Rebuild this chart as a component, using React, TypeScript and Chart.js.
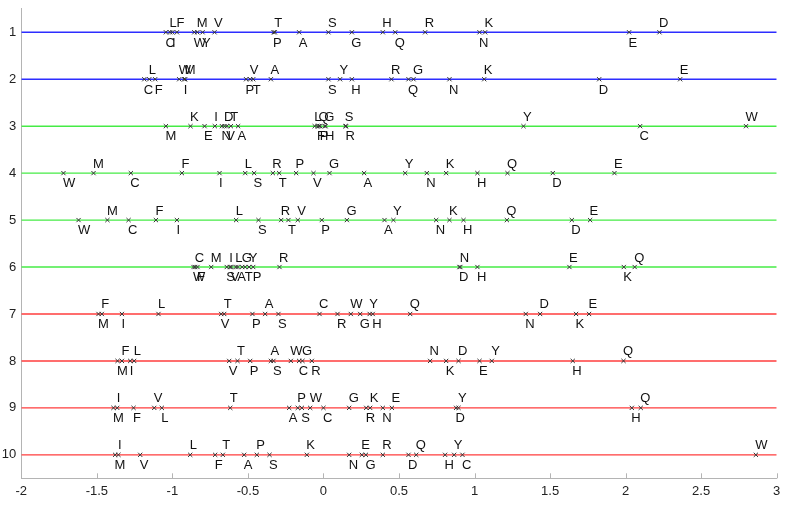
import React, { useEffect, useRef } from "react";
import { Chart, registerables } from "chart.js";

Chart.register(...registerables);

const rowNumbers = [1, 2, 3, 4, 5, 6, 7, 8, 9, 10];
const xTickValues = [-2, -1.5, -1, -0.5, 0, 0.5, 1, 1.5, 2, 2.5, 3];

const row1Letters = ["C","L","I","F","W","M","Y","V","P","T","A","S","G","H","Q","R","N","K","E","D"];
const row1Values = [-1.043,-1.015,-1.0,-0.97,-0.855,-0.835,-0.8,-0.721,-0.33,-0.322,-0.161,0.033,0.188,0.393,0.475,0.673,1.033,1.07,2.023,2.224];

const row2Letters = ["C","L","F","W","I","M","P","V","T","A","S","Y","H","R","Q","G","N","K","D","E"];
const row2Values = [-1.186,-1.153,-1.114,-0.955,-0.922,-0.915,-0.512,-0.485,-0.465,-0.348,0.033,0.11,0.188,0.45,0.563,0.596,0.834,1.064,1.825,2.361];

const row3Letters = ["M","K","E","I","N","D","V","T","A","L","F","Q","P","G","H","S","R","Y","C","W"];
const row3Values = [-1.043,-0.88,-0.787,-0.719,-0.672,-0.655,-0.64,-0.613,-0.565,-0.058,-0.04,-0.03,-0.022,0.008,0.014,0.145,0.15,1.324,2.096,2.797];

const row4Letters = ["W","M","C","F","I","L","S","R","T","P","V","G","A","Y","N","K","H","Q","D","E"];
const row4Values = [-1.721,-1.522,-1.275,-0.937,-0.688,-0.518,-0.459,-0.335,-0.293,-0.181,-0.066,0.04,0.269,0.541,0.684,0.812,1.019,1.218,1.518,1.926];

const row5Letters = ["W","M","C","F","I","L","S","R","T","V","P","G","A","Y","N","K","H","Q","D","E"];
const row5Values = [-1.621,-1.43,-1.29,-1.109,-0.97,-0.578,-0.43,-0.28,-0.232,-0.17,-0.011,0.155,0.404,0.463,0.746,0.834,0.927,1.214,1.644,1.765];

const row6Letters = ["W","C","F","M","S","I","V","L","A","G","T","Y","P","R","D","N","H","E","K","Q"];
const row6Values = [-0.86,-0.849,-0.834,-0.743,-0.64,-0.62,-0.61,-0.581,-0.568,-0.538,-0.518,-0.492,-0.465,-0.291,0.9,0.906,1.019,1.628,1.988,2.06];

const row7Letters = ["M","F","I","L","V","T","P","A","S","C","R","W","G","Y","H","Q","N","D","K","E"];
const row7Values = [-1.489,-1.467,-1.334,-1.092,-0.677,-0.657,-0.47,-0.386,-0.298,-0.026,0.093,0.181,0.243,0.306,0.326,0.574,1.339,1.434,1.672,1.758];

const row8Letters = ["M","F","I","L","V","T","P","A","S","W","C","G","R","N","K","D","E","Y","H","Q"];
const row8Values = [-1.363,-1.334,-1.279,-1.253,-0.624,-0.569,-0.485,-0.348,-0.331,-0.216,-0.161,-0.139,-0.077,0.706,0.812,0.894,1.033,1.114,1.65,1.986];

const row9Letters = ["M","I","F","V","L","T","A","P","S","W","C","G","R","K","N","E","D","Y","H","Q"];
const row9Values = [-1.39,-1.365,-1.257,-1.12,-1.07,-0.617,-0.227,-0.17,-0.143,-0.088,0.0,0.17,0.283,0.309,0.393,0.453,0.878,0.894,2.041,2.1];

const row10Letters = ["M","I","V","L","F","T","A","P","S","K","N","E","G","R","D","Q","H","Y","C","W"];
const row10Values = [-1.379,-1.357,-1.213,-0.882,-0.717,-0.666,-0.525,-0.441,-0.357,-0.11,0.17,0.254,0.281,0.393,0.563,0.614,0.805,0.865,0.92,2.862];

const rowLetters = [row1Letters,row2Letters,row3Letters,row4Letters,row5Letters,row6Letters,row7Letters,row8Letters,row9Letters,row10Letters];
const rowValues = [row1Values,row2Values,row3Values,row4Values,row5Values,row6Values,row7Values,row8Values,row9Values,row10Values];

const BLUE = "rgb(45,45,255)";
const GREEN = "rgb(70,235,70)";
const RED = "rgb(255,60,60)";
const rowColors = [BLUE, BLUE, GREEN, GREEN, GREEN, GREEN, RED, RED, RED, RED];

const FONT = "'Liberation Sans', Arial, Helvetica, sans-serif";

const labelPlugin = {
  id: "letterLabels",
  afterDatasetsDraw(chart: any) {
    const ctx = chart.ctx;
    ctx.save();
    ctx.font = `13px ${FONT}`;
    ctx.fillStyle = "#111";
    ctx.textAlign = "left";
    ctx.textBaseline = "alphabetic";
    chart.data.datasets.forEach((ds: any, di: number) => {
      if (!ds.isMarkers) return;
      const meta = chart.getDatasetMeta(di);
      const idx = ds.data.map((_: any, i: number) => i);
      idx.sort((a: number, b: number) => ds.data[a].x - ds.data[b].x);
      idx.forEach((i: number, k: number) => {
        const el = meta.data[i];
        const letter = ds.data[i].letter;
        if (k % 2 === 0) {
          ctx.fillText(letter, el.x - 0.5, el.y + 14.3);
        } else {
          ctx.fillText(letter, el.x - 0.5, el.y - 5.5);
        }
      });
    });
    ctx.restore();
  },
};

const tickMarkPlugin = {
  id: "tickMarks",
  afterDraw(chart: any) {
    const ctx = chart.ctx;
    const xs = chart.scales.x;
    const bottom = chart.chartArea.bottom;
    ctx.save();
    ctx.strokeStyle = "#b4b4b4";
    ctx.lineWidth = 1;
    xTickValues.forEach((v) => {
      const px = Math.round(xs.getPixelForValue(v)) + 0.5;
      ctx.beginPath();
      ctx.moveTo(px, bottom);
      ctx.lineTo(px, bottom - 5);
      ctx.stroke();
    });
    ctx.restore();
  },
};

export default function App() {
  const ref = useRef<HTMLCanvasElement>(null);
  useEffect(() => {
    const canvas = ref.current;
    if (!canvas) return;
    const datasets: any[] = [];
    rowNumbers.forEach((r, i) => {
      datasets.push({
        type: "line",
        data: [
          { x: xTickValues[0], y: r },
          { x: xTickValues[xTickValues.length - 1], y: r },
        ],
        borderColor: rowColors[i],
        borderWidth: 1.4,
        pointRadius: 0,
        order: 2,
      });
      datasets.push({
        type: "scatter",
        isMarkers: true,
        data: rowValues[i].map((v, j) => ({ x: v, y: r, letter: rowLetters[i][j] })),
        pointStyle: "crossRot",
        pointRadius: 3,
        pointHoverRadius: 3,
        borderColor: "#333",
        backgroundColor: "#333",
        borderWidth: 1,
        showLine: false,
        order: 1,
      });
    });

    const chart = new Chart(canvas, {
      type: "scatter",
      data: { datasets },
      plugins: [labelPlugin, tickMarkPlugin],
      options: {
        animation: false,
        responsive: false,
        events: [],
        layout: { padding: { left: 0, right: 12.3, top: 8.8, bottom: 0 } },
        plugins: { legend: { display: false }, tooltip: { enabled: false } },
        scales: {
          x: {
            type: "linear",
            min: -2,
            max: 3,
            afterBuildTicks: (axis: any) => {
              axis.ticks = xTickValues.map((v) => ({ value: v }));
            },
            afterFit: (axis: any) => {
              axis.height = 26.7;
              axis.paddingLeft = 0;
              axis.paddingRight = 0;
            },
            grid: { display: false, drawTicks: false },
            border: { display: true, color: "#b4b4b4", width: 1 },
            ticks: {
              callback: (v: any) => String(v),
              font: { family: FONT, size: 13 },
              color: "#222",
              padding: 5,
              maxRotation: 0,
              autoSkip: false,
            },
          },
          y: {
            type: "linear",
            min: 0.5,
            max: 10.5,
            reverse: true,
            afterBuildTicks: (axis: any) => {
              axis.ticks = rowNumbers.map((v) => ({ value: v }));
            },
            afterFit: (axis: any) => {
              axis.width = 21.3;
              axis.paddingTop = 0;
              axis.paddingBottom = 0;
            },
            grid: { display: false, drawTicks: false },
            border: { display: true, color: "#b4b4b4", width: 1 },
            ticks: {
              callback: (v: any) => String(v),
              font: { family: FONT, size: 13 },
              color: "#222",
              padding: 5,
            },
          },
        },
      } as any,
    });
    return () => chart.destroy();
  }, []);

  return (
    <div style={{ position: "absolute", left: 0, top: 0, width: 789, height: 505, background: "#fff" }}>
      <canvas ref={ref} width={789} height={505} style={{ display: "block", width: 789, height: 505 }} />
    </div>
  );
}
